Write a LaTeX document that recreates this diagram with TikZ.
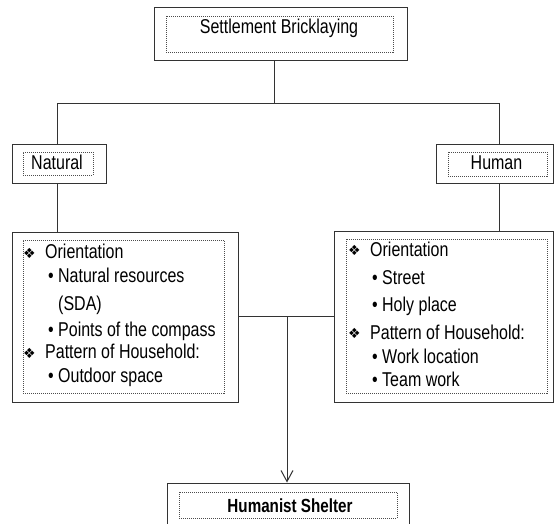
\documentclass[tikz,border=0pt]{standalone}
\usepackage{fontspec}
\setmainfont{Liberation Sans}[FakeStretch=0.8]
\newfontfamily\symfont{DejaVu Sans}
\usetikzlibrary{arrows.meta}
\newcommand{\dm}{\makebox[22pt][l]{\raisebox{1pt}{\symfont\fontsize{14}{14}\selectfont ❖}}}
\newcommand{\bl}{\makebox[10pt][l]{•}}

\begin{document}
\begin{tikzpicture}[x=1pt,y=-1pt,
  every node/.style={font=\fontsize{20}{22}\selectfont},
  outer/.style={draw=black!80,line width=1pt,inner sep=0pt},
  inner/.style={draw=black!70,line width=0.8pt,dash pattern=on 1pt off 1pt,inner sep=0pt},
  txt/.style={anchor=base west,inner sep=0pt},
  title/.style={anchor=base,inner sep=0pt},
  link/.style={draw=black!80,line width=1pt}]
\useasboundingbox (0,0) rectangle (555,524);
% boxes
\node[outer,minimum width=253pt,minimum height=53pt] (top) at (280.5,34.5) {};
\node[inner,minimum width=227pt,minimum height=36pt] (topin) at (279.5,34) {};
\node[title] (toptext) at (279,34) {Settlement Bricklaying};
\node[outer,minimum width=94pt,minimum height=39pt] (natural) at (59,164.5) {};
\node[inner,minimum width=70pt,minimum height=23pt] (naturalin) at (58,163.5) {};
\node[title] (naturaltext) at (57,170) {Natural};
\node[outer,minimum width=117pt,minimum height=39pt] (human) at (494.5,164.5) {};
\node[inner,minimum width=99pt,minimum height=24pt] (humanin) at (497.5,164) {};
\node[title] (humantext) at (496.5,170) {Human};
\node[outer,minimum width=226pt,minimum height=169pt] (natlist) at (125,317.5) {};
\node[inner,minimum width=201pt,minimum height=153pt] (natlistin) at (123.5,316.5) {};
\node[outer,minimum width=219pt,minimum height=170pt] (humlist) at (443.5,317) {};
\node[inner,minimum width=201pt,minimum height=154pt] (humlistin) at (446.5,316) {};
\node[outer,minimum width=242pt,minimum height=57pt] (shelter) at (288,511.5) {};
\node[inner,minimum width=218pt,minimum height=26pt] (shelterin) at (288,505) {};
\node[title,font=\fontsize{19}{21}\selectfont\bfseries] (sheltertext) at (290,512) {Humanist Shelter};
% left list
\node[txt] (n1) at (23,259) {\dm Orientation};
\node[txt] (n2) at (48,283) {\bl Natural resources};
\node[txt] (n3) at (58,310) {(SDA)};
\node[txt] (n4) at (48,336) {\bl Points of the compass};
\node[txt] (n5) at (23,359) {\dm Pattern of Household:};
\node[txt] (n6) at (48,382) {\bl Outdoor space};
% right list
\node[txt] (h1) at (348,257) {\dm Orientation};
\node[txt] (h2) at (372,285) {\bl Street};
\node[txt] (h3) at (372,312) {\bl Holy place};
\node[txt] (h4) at (348,339) {\dm Pattern of Household:};
\node[txt] (h5) at (372,363) {\bl Work location};
\node[txt] (h6) at (372,386) {\bl Team work};
% connectors
\coordinate (cm) at (274,104);
\coordinate (cl) at (57,104);
\coordinate (cr) at (499,104);
\coordinate (cj) at (287,316);
\draw[link] (top.south -| cm) -- (cm);
\draw[link] (natural.north -| cl) -- (cl) -- (cr) -- (human.north -| cr);
\draw[link] (natural.south -| cl) -- (natlist.north -| cl);
\draw[link] (human.south -| cr) -- (humlist.north -| cr);
\draw[link] (natlist.east |- cj) -- (humlist.west |- cj);
\draw[link,-{Straight Barb[length=11pt,width=12pt]}] (cj) -- (shelter.north -| cj);
\end{tikzpicture}
\end{document}
